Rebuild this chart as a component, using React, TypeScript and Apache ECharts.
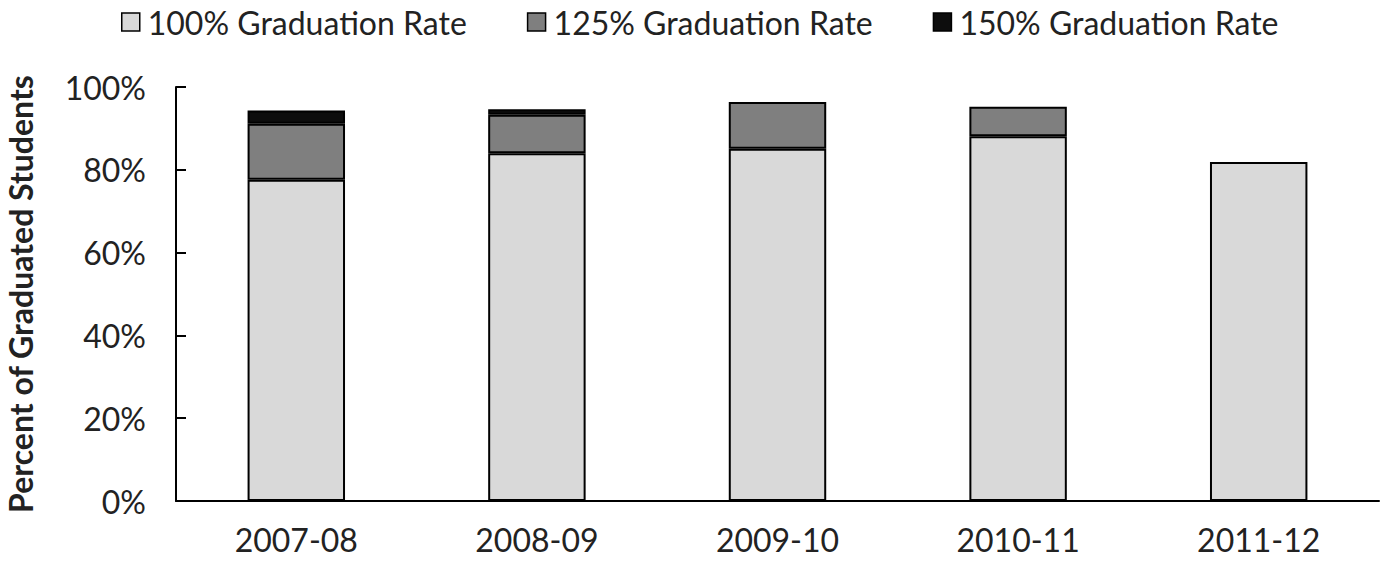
import React, { useEffect, useRef } from "react";
import * as echarts from "echarts";

const categories = ["2007-08", "2008-09", "2009-10", "2010-11", "2011-12"];
const rate100 = [77.6, 84.0, 85.1, 88.1, 81.9];
const rate125 = [13.5, 9.3, 11.3, 7.1, 0];
const rate150 = [3.2, 1.3, 0, 0, 0];
const seriesNames = ["100% Graduation Rate", "125% Graduation Rate", "150% Graduation Rate"];
const yTicks = [0, 20, 40, 60, 80, 100];

export default function App() {
  const ref = useRef<HTMLDivElement>(null);
  useEffect(() => {
    const chart = echarts.init(ref.current!, null, { renderer: "svg" });
    const font = "Lato";
    const colors = ["#d9d9d9", "#7f7f7f", "#0d0d0d"];
    const datas = [rate100, rate125, rate150];
    chart.setOption({
      animation: false,
      textStyle: { fontFamily: font },
      legend: {
        top: 1,
        left: 116,
        itemWidth: 18,
        itemHeight: 18,
        itemGap: 60,
        icon: "rect",
        textStyle: { fontFamily: font, fontSize: 32, color: "#222", padding: [0, 0, 0, 3] },
        data: seriesNames.map((n, i) => ({ name: n, itemStyle: { color: colors[i], borderColor: "#000", borderWidth: 1.5 } })),
      },
      grid: { left: 176, right: 6, top: 87, bottom: 60, containLabel: false, outerBoundsMode: "none" },
      xAxis: {
        type: "category",
        data: categories,
        axisLine: { lineStyle: { color: "#000", width: 2 } },
        axisTick: { show: false },
        axisLabel: { fontFamily: font, fontSize: 32, color: "#222", margin: 22 },
      },
      yAxis: {
        type: "value",
        min: 0,
        max: 100,
        interval: 20,
        name: "Percent of Graduated Students",
        nameLocation: "middle",
        nameGap: 140,
        nameTextStyle: { fontFamily: font, fontSize: 32, fontWeight: "bold", color: "#222" },
        axisLine: { show: true, lineStyle: { color: "#000", width: 2 } },
        axisTick: { show: true, inside: true, length: 10, lineStyle: { color: "#000", width: 2 } },
        splitLine: { show: false },
        axisLabel: {
          fontFamily: font,
          fontSize: 32,
          color: "#222",
          margin: 30,
          formatter: (v: number) => (yTicks.includes(v) ? v + "%" : ""),
        },
      },
      series: seriesNames.map((n, i) => ({
        name: n,
        type: "bar",
        stack: "total",
        barWidth: "40.5%",
        data: datas[i].map((v) => (v > 0 ? v : null)),
        itemStyle: { color: colors[i], borderColor: "#000", borderWidth: 2 },
      })),
    });
    return () => chart.dispose();
  }, []);
  return <div ref={ref} style={{ width: 1385, height: 561, position: "absolute", left: 0, top: 0, background: "#fff" }} />;
}
